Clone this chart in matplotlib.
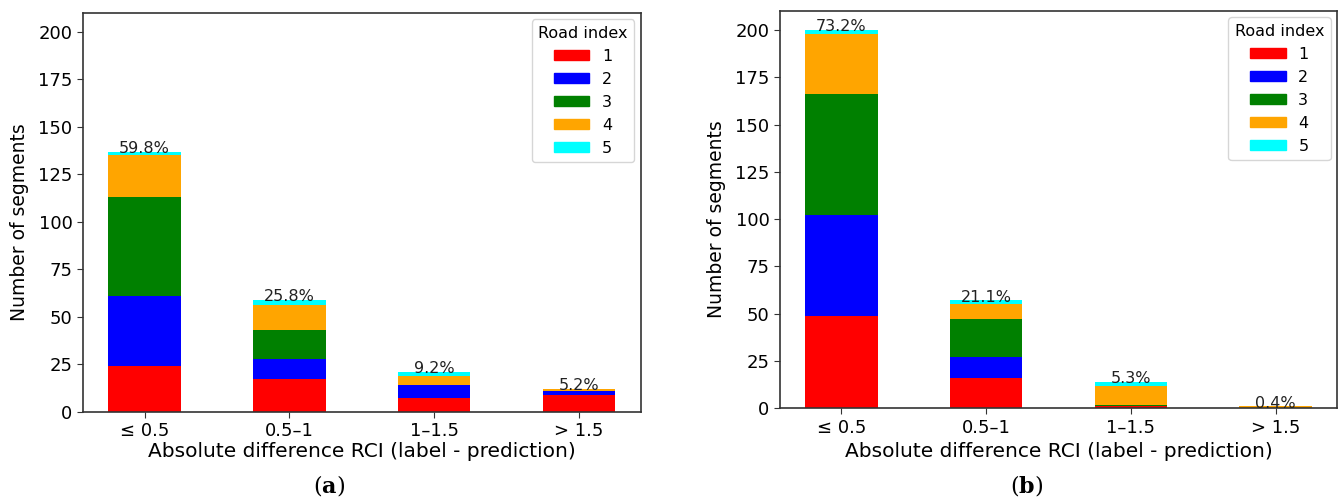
import numpy as np
import matplotlib.pyplot as plt
from matplotlib.patches import Patch

bins = ["\u2264 0.5", "0.5\u20131", "1\u20131.5", "> 1.5"]
road_ids = ["1", "2", "3", "4", "5"]
colors = ["red", "blue", "green", "orange", "cyan"]

# segments per bin, one list per road index
counts_a = {
    "1": [24, 17, 7, 9],
    "2": [37, 11, 7, 2],
    "3": [52, 15, 0, 0],
    "4": [22, 13, 5, 1],
    "5": [2, 3, 2, 0],
}
pct_a = ["59.8%", "25.8%", "9.2%", "5.2%"]

counts_b = {
    "1": [49, 16, 1, 0],
    "2": [53, 11, 0, 0],
    "3": [64, 20, 1, 0],
    "4": [32, 8, 10, 1],
    "5": [2, 2, 2, 0],
}
pct_b = ["73.2%", "21.1%", "5.3%", "0.4%"]

plt.rcParams["mathtext.fontset"] = "dejavuserif"

fig = plt.figure(figsize=(13.41, 4.99), dpi=100)
ax_a = fig.add_axes([83 / 1341, 1 - 411.7 / 499, (640.7 - 83) / 1341, (411.7 - 13) / 499])
ax_b = fig.add_axes([780 / 1341, 1 - 408.3 / 499, (1337 - 780) / 1341, (408.3 - 11) / 499])


def draw(ax, counts, pct, tag, tag_x, xpad):
    x = np.arange(len(bins))
    bottom = np.zeros(len(bins))
    for rid, c in zip(road_ids, colors):
        vals = np.array(counts[rid], dtype=float)
        ax.bar(x, vals, 0.5, bottom=bottom, color=c)
        bottom += vals
    for xi, top, lab in zip(x, bottom, pct):
        ax.text(xi, top - 0.6, lab, ha="center", va="baseline", fontsize=11.5, color="#222222")
    ax.set_xlim(-0.425, 3.425)
    ax.set_ylim(0, 210)
    ax.set_yticks(np.arange(0, 201, 25))
    ax.set_xticks(x)
    ax.set_xticklabels(bins)
    ax.tick_params(labelsize=13, length=4, color="#333333")
    for s in ax.spines.values():
        s.set_color("#333333")
        s.set_linewidth(1.2)
    ax.set_ylabel("Number of segments", fontsize=13.5)
    ax.yaxis.set_label_coords(-0.097, 0.475)
    ax.set_xlabel("Absolute difference RCI (label - prediction)", fontsize=14.5, labelpad=xpad)
    handles = [Patch(color=c) for c in colors]
    ax.legend(handles, road_ids, title="Road index", loc="upper right",
              fontsize=11.5, title_fontsize=11.5, handlelength=2.2, handleheight=0.6,
              borderaxespad=0.4)
    fig.text(tag_x / 1341, 1 - 486 / 499, "(" + r"$\mathbf{" + tag + "}$" + ")",
             ha="center", va="center", fontsize=16, family="DejaVu Serif")


draw(ax_a, counts_a, pct_a, "a", 329, 1)
draw(ax_b, counts_b, pct_b, "b", 1027, 4)

fig.savefig("out.png", dpi=100)
